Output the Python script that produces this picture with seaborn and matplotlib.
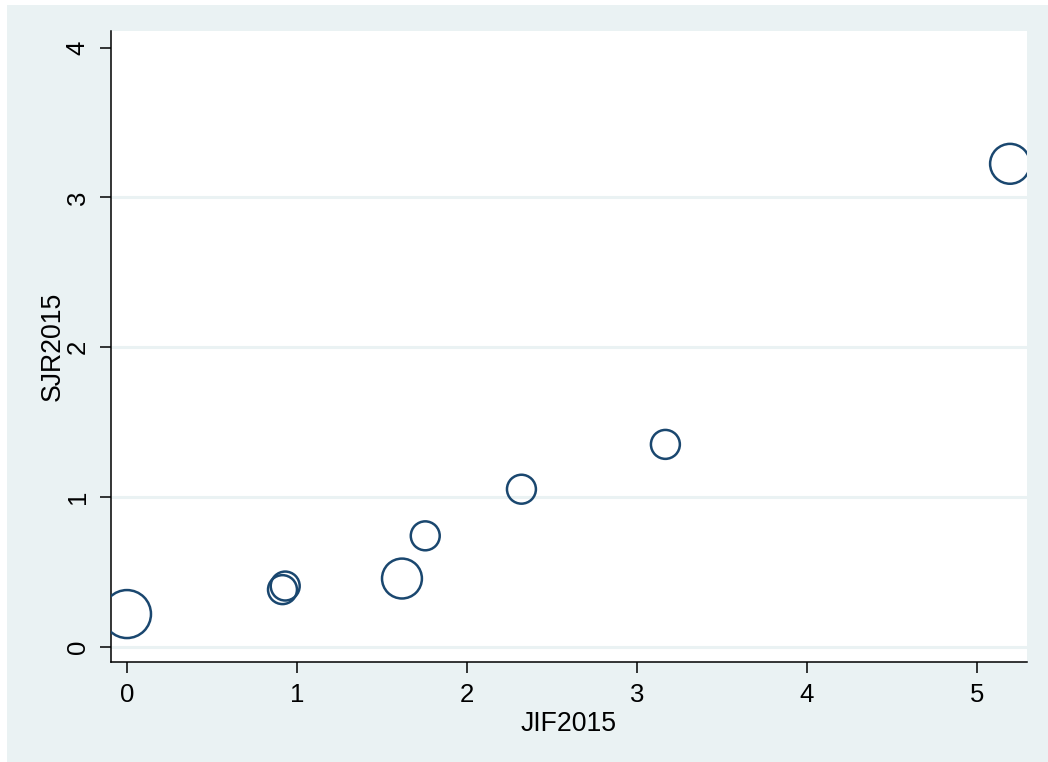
import seaborn as sns
import pandas as pd
import numpy as np
import matplotlib.pyplot as plt
from matplotlib.patches import Rectangle

# journal values
jif2015 = [0.0, 0.915, 0.931, 1.618, 1.755, 2.321, 3.168, 5.196]
sjr2015 = [0.22, 0.383, 0.407, 0.457, 0.742, 1.053, 1.352, 3.224]
weight = [5.5, 2.0, 2.0, 3.8, 2.0, 2.0, 2.0, 3.8]

df = pd.DataFrame({"JIF2015": jif2015, "SJR2015": sjr2015, "weight": weight})

sns.set_style("white")
plt.rcParams["font.family"] = ["Liberation Sans", "DejaVu Sans"]
plt.rcParams["text.color"] = "black"
plt.rcParams["axes.labelcolor"] = "black"
plt.rcParams["xtick.labelcolor"] = "black"
plt.rcParams["ytick.labelcolor"] = "black"

bg = "#EAF2F3"
navy = "#1A476F"

fig = plt.figure(figsize=(10.48, 7.62), dpi=100)
fig.patch.set_facecolor("white")
fig.patches.append(Rectangle((7 / 1048, 0), 1, 1 - 5 / 762, transform=fig.transFigure,
                             facecolor=bg, edgecolor="none", zorder=-10))
ax = fig.add_axes([0.1056, 0.1312, 0.980 - 0.1056, 0.9593 - 0.1312])
ax.set_facecolor("white")

for yv in [0, 1, 2, 3]:
    ax.axhline(yv, color=bg, linewidth=2.2, zorder=0)

sns.scatterplot(data=df, x="JIF2015", y="SJR2015", size="weight",
                sizes=(0, 1194), size_norm=(0, 5.5), legend=False,
                facecolor="none", edgecolor=navy, linewidth=1.8, ax=ax, zorder=3)

ax.set_xlim(-0.096, 5.296)
ax.set_ylim(-0.10, 4.11)
ax.set_xticks([0, 1, 2, 3, 4, 5])
ax.set_yticks([0, 1, 2, 3, 4])
ax.tick_params(axis="both", direction="out", length=8, width=1.1, color="black",
               labelcolor="black", labelsize=18.5, pad=7, bottom=True, left=True)
for lab in ax.get_yticklabels():
    lab.set_rotation(90)
    lab.set_va("center")
ax.set_xlabel("JIF2015", fontsize=19.2, labelpad=3, color="black")
ax.set_ylabel("SJR2015", fontsize=19.2, labelpad=0, color="black")

for side in ["top", "right"]:
    ax.spines[side].set_visible(False)
for side in ["left", "bottom"]:
    ax.spines[side].set_color("black")
    ax.spines[side].set_linewidth(1.1)

plt.savefig("out.png", dpi=100)
